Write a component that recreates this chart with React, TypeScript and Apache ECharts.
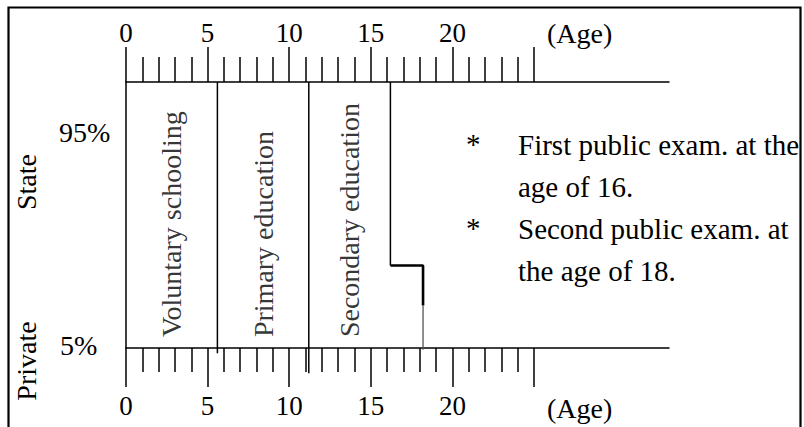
import React, { useEffect, useRef } from "react";
import * as echarts from "echarts";

// ---- data ----
const MAJOR_AGES = [0, 5, 10, 15, 20, 25];
const LABEL_AGES = [0, 5, 10, 15, 20];
const MINOR_AGES = [1, 2, 3, 4, 6, 7, 8, 9, 11, 12, 13, 14, 16, 17, 18, 19, 21, 22, 23, 24];
const AGE_AXIS_MAX = 33.27;
const STAGE_NAMES = ["Voluntary schooling", "Primary education", "Secondary education"];
const STAGE_BOUNDS = [0, 5.6, 11.2, 16.2];
const SEPARATOR_DROP = [-2, -9.5];
const EXAM_AGES = [16.2, 18.2];
const STEP_LEVEL = 31;
const THICK_END = 16;
const LABEL_BASE = 4.1;
const SHARE_LABELS = ["95%", "5%"];
const SECTOR_LABELS = ["State", "Private"];
const AXIS_NAME = "(Age)";
const NOTES = [
  ["First public exam. at the", "age of 16."],
  ["Second public exam. at", "the age of 18."],
];

const FONT = "'Liberation Serif', 'Times New Roman', serif";

export default function App() {
  const ref = useRef<HTMLDivElement>(null);

  useEffect(() => {
    document.body.style.margin = "0";
    const chart = echarts.init(ref.current!, null, { renderer: "svg" });

    const axisBase = {
      type: "value" as const,
      min: 0,
      max: AGE_AXIS_MAX,
      gridIndex: 0,
      splitLine: { show: false },
    };
    const black = "#000";
    const lineAxis = { show: true, lineStyle: { color: black, width: 1.5 } };
    const labelStyle = { fontFamily: FONT, fontSize: 27, color: black };

    const xAxis = [
      {
        ...axisBase,
        position: "bottom",
        axisLine: lineAxis,
        axisTick: { show: true, customValues: MAJOR_AGES, length: 39, lineStyle: { color: black, width: 1.5 } },
        axisLabel: { show: true, customValues: LABEL_AGES, margin: 44, ...labelStyle },
      },
      {
        ...axisBase,
        position: "bottom",
        axisLine: { show: false },
        axisTick: { show: true, customValues: MINOR_AGES, length: 24, lineStyle: { color: black, width: 1.5 } },
        axisLabel: { show: false },
      },
      {
        ...axisBase,
        position: "top",
        axisLine: lineAxis,
        axisTick: { show: true, customValues: MAJOR_AGES, length: 35, lineStyle: { color: black, width: 1.5 } },
        axisLabel: { show: true, customValues: LABEL_AGES, margin: 36, ...labelStyle },
      },
      {
        ...axisBase,
        position: "top",
        axisLine: { show: false },
        axisTick: { show: true, customValues: MINOR_AGES, length: 25, lineStyle: { color: black, width: 1.5 } },
        axisLabel: { show: false },
      },
    ];

    const lineSeries = (data: number[][], color: string, width: number) => ({
      type: "line",
      xAxisIndex: 0,
      yAxisIndex: 0,
      data,
      symbol: "none",
      silent: true,
      clip: false,
      lineStyle: { color, width },
    });

    const series: any[] = [];
    for (let i = 1; i < STAGE_BOUNDS.length - 1; i++) {
      series.push(
        lineSeries(
          [
            [STAGE_BOUNDS[i], SEPARATOR_DROP[i - 1]],
            [STAGE_BOUNDS[i], 100],
          ],
          black,
          1.5
        )
      );
    }
    series.push(lineSeries([[EXAM_AGES[0], 100], [EXAM_AGES[0], STEP_LEVEL]], black, 1.5));
    series.push(
      lineSeries(
        [
          [EXAM_AGES[0], STEP_LEVEL],
          [EXAM_AGES[1], STEP_LEVEL],
          [EXAM_AGES[1], THICK_END],
        ],
        black,
        2.6
      )
    );
    series.push(lineSeries([[EXAM_AGES[1], THICK_END], [EXAM_AGES[1], -0.7]], "#555", 1.3));

    series.push({
      type: "scatter",
      xAxisIndex: 0,
      yAxisIndex: 0,
      symbolSize: 0,
      silent: true,
      data: STAGE_NAMES.map((n, i) => ({
        name: n,
        value: [(STAGE_BOUNDS[i] + STAGE_BOUNDS[i + 1]) / 2, LABEL_BASE],
      })),
      label: {
        show: true,
        formatter: "{b}",
        position: "inside",
        rotate: 90,
        align: "left",
        verticalAlign: "middle",
        fontFamily: FONT,
        fontSize: 28,
        color: black,
      },
    });

    const txt = (text: string, x: number, y: number, size: number, extra: any = {}, rotation = 0) => ({
      type: "text",
      x,
      y,
      rotation,
      silent: true,
      style: {
        text,
        fill: black,
        font: `${size}px ${FONT}`,
        align: "left",
        verticalAlign: "middle",
        ...extra,
      },
    });

    const graphic: any[] = [
      {
        type: "polyline",
        silent: true,
        shape: { points: [[8.5, 427], [8.5, 7.5], [800.5, 7.5], [800.5, 427]] },
        style: { stroke: black, lineWidth: 2.2, fill: null },
      },
      txt(AXIS_NAME, 547, 33, 28),
      txt(AXIS_NAME, 547, 408, 28),
      txt(SHARE_LABELS[0], 59, 132, 28),
      txt(SHARE_LABELS[1], 60, 345, 28),
      txt(SECTOR_LABELS[0], 26, 182, 28, { align: "center" }, Math.PI / 2),
      txt(SECTOR_LABELS[1], 26, 361, 28, { align: "center" }, Math.PI / 2),
    ];
    NOTES.forEach((lines, k) => {
      const base = 145 + k * 84;
      graphic.push(txt("*", 466, base - 1, 29));
      graphic.push(txt(lines[0], 518, base, 29));
      graphic.push(txt(lines[1], 518, base + 42, 29));
    });

    chart.setOption({
      animation: false,
      backgroundColor: "#fff",
      grid: { left: 126, top: 82, width: 543, height: 266, containLabel: false },
      xAxis,
      yAxis: {
        type: "value",
        min: 0,
        max: 100,
        position: "left",
        axisLine: lineAxis,
        axisTick: { show: false },
        axisLabel: { show: false },
        splitLine: { show: false },
      },
      series,
      graphic,
    });

    return () => chart.dispose();
  }, []);

  return (
    <div
      ref={ref}
      style={{ position: "absolute", left: 0, top: 0, width: 804, height: 427, background: "#fff" }}
    />
  );
}
